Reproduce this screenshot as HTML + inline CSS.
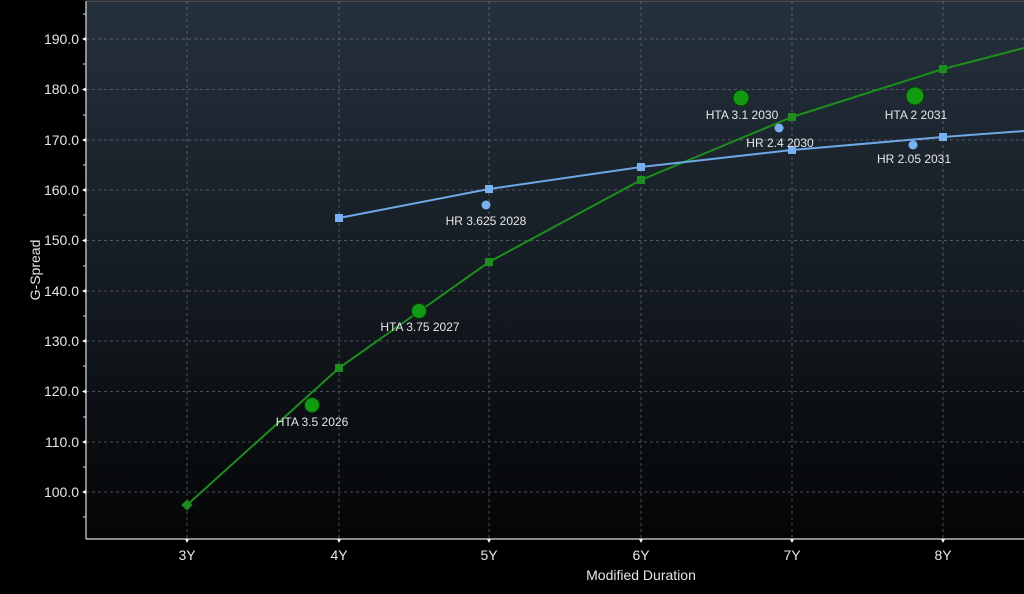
<!DOCTYPE html>
<html><head><meta charset="utf-8"><style>
html,body{margin:0;padding:0;background:#000;}
svg{display:block;font-family:"Liberation Sans",sans-serif;}
</style></head><body>
<svg width="1024" height="594" viewBox="0 0 1024 594">
<defs>
<linearGradient id="bg" x1="0" y1="0" x2="0" y2="1">
<stop offset="0" stop-color="#25313d"/>
<stop offset="0.5" stop-color="#151c23"/>
<stop offset="1" stop-color="#040506"/>
</linearGradient>
</defs>
<rect width="1024" height="594" fill="#000"/>
<rect x="86" y="1" width="938" height="538" fill="url(#bg)"/>
<g stroke="#7a828a" stroke-width="0.8" stroke-dasharray="3,3" opacity="0.75">
<line x1="86" x2="1024" y1="39" y2="39"/><line x1="86" x2="1024" y1="89.5" y2="89.5"/>
<line x1="86" x2="1024" y1="140" y2="140"/><line x1="86" x2="1024" y1="190" y2="190"/>
<line x1="86" x2="1024" y1="240.5" y2="240.5"/><line x1="86" x2="1024" y1="291" y2="291"/>
<line x1="86" x2="1024" y1="341" y2="341"/><line x1="86" x2="1024" y1="391.5" y2="391.5"/>
<line x1="86" x2="1024" y1="442" y2="442"/><line x1="86" x2="1024" y1="492" y2="492"/>
<line y1="1" y2="539" x1="187" x2="187"/><line y1="1" y2="539" x1="339" x2="339"/>
<line y1="1" y2="539" x1="489" x2="489"/><line y1="1" y2="539" x1="641" x2="641"/>
<line y1="1" y2="539" x1="792" x2="792"/><line y1="1" y2="539" x1="943" x2="943"/>
</g>
<line x1="86" y1="1" x2="86" y2="539" stroke="#ddd" stroke-width="1.2"/>
<line x1="86" y1="539" x2="1024" y2="539" stroke="#ddd" stroke-width="1.2"/>
<line x1="86" y1="1" x2="1024" y2="1" stroke="#666" stroke-width="1"/>
<g stroke="#ddd" stroke-width="1">
<line x1="83" x2="86" y1="14" y2="14"/><line x1="83" x2="86" y1="64" y2="64"/><line x1="83" x2="86" y1="115" y2="115"/>
<line x1="83" x2="86" y1="165" y2="165"/><line x1="83" x2="86" y1="215" y2="215"/><line x1="83" x2="86" y1="266" y2="266"/>
<line x1="83" x2="86" y1="316" y2="316"/><line x1="83" x2="86" y1="366" y2="366"/><line x1="83" x2="86" y1="417" y2="417"/>
<line x1="83" x2="86" y1="467" y2="467"/><line x1="83" x2="86" y1="517" y2="517"/>
</g>
<g fill="#e6e6e6" font-size="14" text-anchor="end">
<text x="79" y="44">190.0</text><text x="79" y="94">180.0</text><text x="79" y="145">170.0</text>
<text x="79" y="195">160.0</text><text x="79" y="245">150.0</text><text x="79" y="296">140.0</text>
<text x="79" y="346">130.0</text><text x="79" y="396">120.0</text><text x="79" y="447">110.0</text>
<text x="79" y="497">100.0</text>
</g>
<g fill="#fff">
<polygon points="82,39 86,37 86,41"/><polygon points="82,89.5 86,87.5 86,91.5"/><polygon points="82,140 86,138 86,142"/>
<polygon points="82,190 86,188 86,192"/><polygon points="82,240.5 86,238.5 86,242.5"/><polygon points="82,291 86,289 86,293"/>
<polygon points="82,341 86,339 86,343"/><polygon points="82,391.5 86,389.5 86,393.5"/><polygon points="82,442 86,440 86,444"/>
<polygon points="82,492 86,490 86,494"/>
<polygon points="185,539 189,539 187,543"/><polygon points="337,539 341,539 339,543"/><polygon points="487,539 491,539 489,543"/>
<polygon points="639,539 643,539 641,543"/><polygon points="790,539 794,539 792,543"/><polygon points="941,539 945,539 943,543"/>
</g>
<g fill="#e6e6e6" font-size="14" text-anchor="middle">
<text x="187" y="560">3Y</text><text x="339" y="560">4Y</text><text x="489" y="560">5Y</text>
<text x="641" y="560">6Y</text><text x="792" y="560">7Y</text><text x="943" y="560">8Y</text>
<text x="641" y="580">Modified Duration</text>
<text transform="translate(40,270) rotate(-90)">G-Spread</text>
</g>
<polyline points="187,505 339,368 489,262 641,180 792,117 943,69 1024,48" fill="none" stroke="#1e8c1e" stroke-width="2"/>
<polyline points="339,218 489,189 641,167 792,150 943,137 1024,131" fill="none" stroke="#6ea8e6" stroke-width="2"/>
<g fill="#1e8c1e">
<rect x="183" y="501" width="8" height="8" transform="rotate(45 187 505)"/>
<rect x="335" y="364" width="8" height="8"/><rect x="485" y="258" width="8" height="8"/>
<rect x="637" y="176" width="8" height="8"/><rect x="788" y="113" width="8" height="8"/>
<rect x="939" y="65" width="8" height="8"/>
</g>
<g fill="#78b0f0">
<rect x="335" y="214" width="8" height="8"/><rect x="485" y="185" width="8" height="8"/>
<rect x="637" y="163" width="8" height="8"/><rect x="788" y="146" width="8" height="8"/>
<rect x="939" y="133" width="8" height="8"/>
<circle cx="486" cy="205" r="4.5"/><circle cx="779" cy="128" r="4.5"/><circle cx="913" cy="145" r="4.5"/>
</g>
<g fill="#129a12" stroke="#0a3a0a" stroke-width="1">
<circle cx="312" cy="405" r="7.5"/><circle cx="419" cy="311" r="7.5"/>
<circle cx="741" cy="98" r="8"/><circle cx="915" cy="96" r="9"/>
</g>
<g fill="#e6e6e6" font-size="12" text-anchor="middle">
<text x="312" y="426">HTA 3.5 2026</text><text x="420" y="331">HTA 3.75 2027</text>
<text x="742" y="119">HTA 3.1 2030</text><text x="916" y="119">HTA 2 2031</text>
<text x="486" y="225">HR 3.625 2028</text><text x="780" y="147">HR 2.4 2030</text>
<text x="914" y="163">HR 2.05 2031</text>
</g>
</svg>
</body></html>
